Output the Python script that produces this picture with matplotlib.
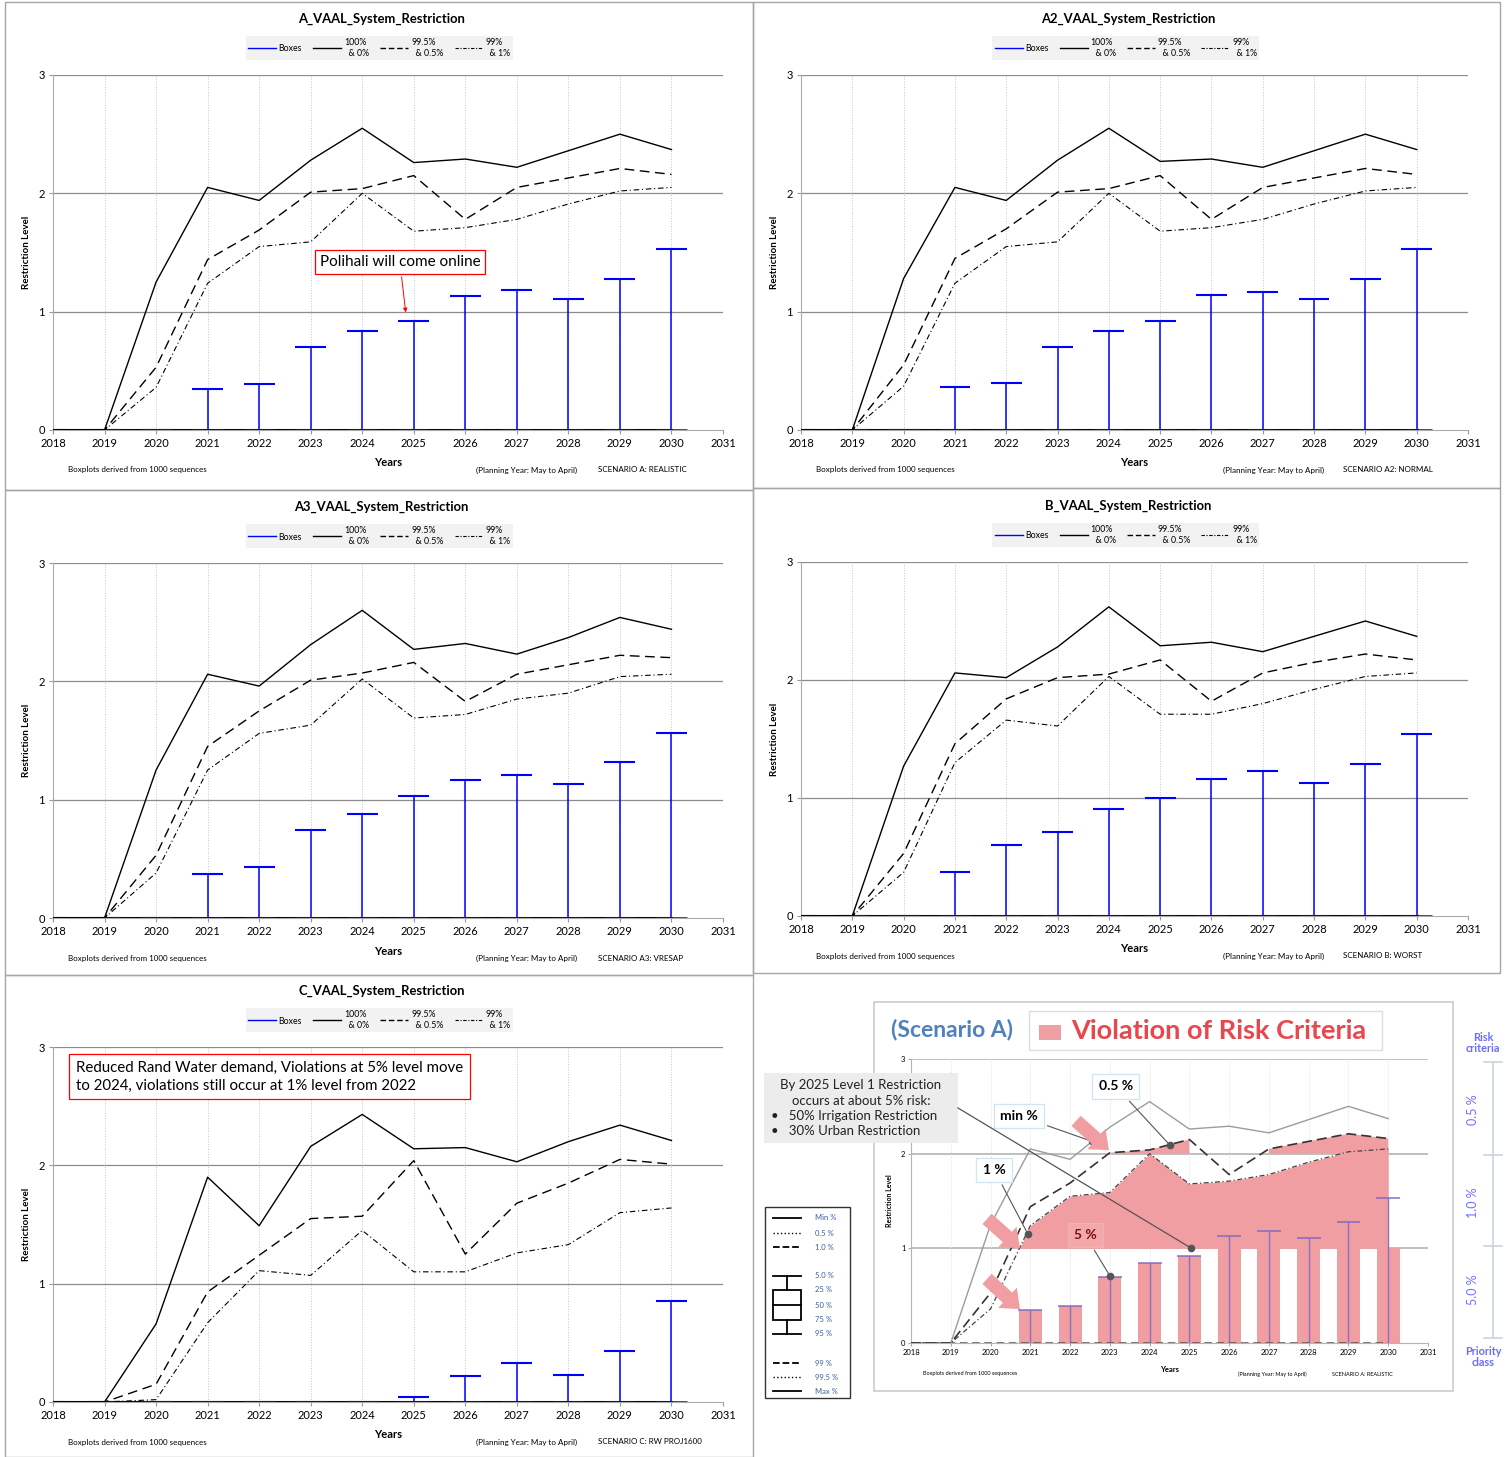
import numpy as np
import matplotlib
matplotlib.use('Agg')
import matplotlib.pyplot as plt
from matplotlib.lines import Line2D
from matplotlib.patches import Rectangle, FancyArrowPatch

plt.rcParams['font.family'] = ['Lato', 'DejaVu Sans']

W, H = 1507, 1457

years = np.arange(2018, 2031)
xticks = np.arange(2018, 2032)

# A: realistic
a_max = [0, 0, 1.25, 2.05, 1.94, 2.28, 2.55, 2.26, 2.29, 2.22, 2.36, 2.50, 2.37]
a_995 = [0, 0, 0.53, 1.44, 1.69, 2.01, 2.04, 2.15, 1.78, 2.05, 2.13, 2.21, 2.16]
a_99 = [0, 0, 0.36, 1.24, 1.55, 1.59, 2.00, 1.68, 1.71, 1.78, 1.91, 2.02, 2.05]
a_box = [0, 0, 0, 0.35, 0.39, 0.70, 0.84, 0.92, 1.13, 1.18, 1.11, 1.28, 1.53]

# A2: normal
a2_max = [0, 0, 1.28, 2.05, 1.94, 2.28, 2.55, 2.27, 2.29, 2.22, 2.36, 2.50, 2.37]
a2_995 = [0, 0, 0.55, 1.45, 1.70, 2.01, 2.04, 2.15, 1.78, 2.05, 2.13, 2.21, 2.16]
a2_99 = [0, 0, 0.37, 1.24, 1.55, 1.59, 2.00, 1.68, 1.71, 1.78, 1.91, 2.02, 2.05]
a2_box = [0, 0, 0, 0.36, 0.40, 0.70, 0.84, 0.92, 1.14, 1.17, 1.11, 1.28, 1.53]

# A3: VRESAP
a3_max = [0, 0, 1.25, 2.06, 1.96, 2.31, 2.60, 2.27, 2.32, 2.23, 2.37, 2.54, 2.44]
a3_995 = [0, 0, 0.53, 1.45, 1.75, 2.01, 2.07, 2.16, 1.83, 2.06, 2.14, 2.22, 2.20]
a3_99 = [0, 0, 0.38, 1.25, 1.56, 1.63, 2.02, 1.69, 1.72, 1.85, 1.90, 2.04, 2.06]
a3_box = [0, 0, 0, 0.37, 0.43, 0.74, 0.88, 1.03, 1.17, 1.21, 1.13, 1.32, 1.56]

# B: worst
b_max = [0, 0, 1.27, 2.06, 2.02, 2.28, 2.62, 2.29, 2.32, 2.24, 2.37, 2.50, 2.37]
b_995 = [0, 0, 0.53, 1.46, 1.84, 2.02, 2.05, 2.17, 1.82, 2.06, 2.15, 2.22, 2.17]
b_99 = [0, 0, 0.37, 1.30, 1.66, 1.61, 2.03, 1.71, 1.71, 1.80, 1.92, 2.03, 2.06]
b_box = [0, 0, 0, 0.37, 0.60, 0.71, 0.91, 1.00, 1.16, 1.23, 1.13, 1.29, 1.54]

# C: RW PROJ1600
c_max = [0, 0, 0.66, 1.90, 1.49, 2.16, 2.43, 2.14, 2.15, 2.03, 2.20, 2.34, 2.21]
c_995 = [0, 0, 0.15, 0.93, 1.24, 1.55, 1.57, 2.04, 1.25, 1.68, 1.85, 2.05, 2.01]
c_99 = [0, 0, 0.02, 0.67, 1.11, 1.07, 1.45, 1.10, 1.10, 1.26, 1.33, 1.60, 1.64]
c_box = [0, 0, 0, 0, 0, 0, 0, 0.04, 0.22, 0.33, 0.23, 0.43, 0.85]

legend_labels = ['Boxes', '100%\n  & 0%', '99.5%\n  & 0.5%', '99%\n  & 1%']

DASH = (0, (7, 4))
DASHDOT = (0, (5, 2.5, 1, 2.5))


def px_rect(x0, y0, x1, y1):
    return [x0 / W, 1 - y1 / H, (x1 - x0) / W, (y1 - y0) / H]


def draw_panel(fig, rect, title, mx, p995, p99, box, scenario):
    x0, y0, x1, y1 = rect
    ax = fig.add_axes(px_rect(*rect))
    hpx = y1 - y0
    mx, p995, p99, box = map(np.array, (mx, p995, p99, box))
    zero = np.zeros(len(years))
    ax.set_xlim(2018, 2031)
    ax.set_ylim(0, 3)
    for y in [1, 2, 3]:
        ax.axhline(y, color='#8c8c8c', lw=0.9, zorder=0)
    for x in range(2019, 2032):
        ax.axvline(x, color='#c4c4c4', lw=0.7, ls=':', zorder=0)
    # boxplot whiskers (boxes collapse at zero)
    ax.plot(years, zero, color='black', lw=2.2, zorder=2)
    ax.hlines(zero, years - 0.3, years + 0.3, color='blue', lw=1.8, zorder=3)
    ax.vlines(years, 0, box, color='blue', lw=1.1, zorder=3)
    ax.hlines(box, years - 0.3, years + 0.3, color='blue', lw=1.5, zorder=3)
    ax.plot(years, mx, color='black', lw=1.0, zorder=4)
    ax.plot(years, p995, color='black', lw=1.0, ls=DASH, zorder=4)
    ax.plot(years, p99, color='black', lw=0.8, ls=DASHDOT, zorder=4)
    ax.set_xticks(xticks)
    ax.set_yticks([0, 1, 2, 3])
    ax.tick_params(labelsize=8, length=3, color='#999999', pad=3)
    for s in ['top', 'right']:
        ax.spines[s].set_visible(False)
    for s in ['left', 'bottom']:
        ax.spines[s].set_color('#aaaaaa')
    ax.text(0.49, 1 + 56 / hpx, title, transform=ax.transAxes, ha='center',
            va='center', fontsize=9.4, fontweight='bold')
    ax.text(-0.040, 0.5, 'Restriction Level', transform=ax.transAxes, rotation=90,
            ha='center', va='center', fontsize=7, fontweight='bold')
    ax.text(0.5, -33 / hpx, 'Years', transform=ax.transAxes, ha='center',
            va='center', fontsize=8, fontweight='bold')
    ax.text(0.022, -40 / hpx, 'Boxplots derived from 1000 sequences',
            transform=ax.transAxes, ha='left', va='center', fontsize=5.8)
    ax.text(0.632, -40 / hpx, '(Planning Year: May to April)',
            transform=ax.transAxes, ha='left', va='center', fontsize=5.8)
    ax.text(0.813, -40 / hpx, scenario, transform=ax.transAxes, ha='left',
            va='center', fontsize=5.8)
    handles = [Line2D([], [], color='blue', lw=1),
               Line2D([], [], color='black', lw=1),
               Line2D([], [], color='black', lw=1, ls=(0, (4, 2))),
               Line2D([], [], color='black', lw=0.8, ls=(0, (3, 1.5, 1, 1.5)))]
    ax.legend(handles, legend_labels, ncol=4, loc='center',
              bbox_to_anchor=(0.487, 1 + 27 / hpx), fontsize=6.3,
              facecolor='#f2f2f2', edgecolor='none', framealpha=1,
              handlelength=3.2, handletextpad=0.3, columnspacing=1.3,
              borderpad=0.25, labelspacing=0.1, fancybox=False)
    return ax


fig = plt.figure(figsize=(W / 100, H / 100), dpi=100)

axA = draw_panel(fig, (53, 75, 723, 430), 'A_VAAL_System_Restriction',
                 a_max, a_995, a_99, a_box, 'SCENARIO A: REALISTIC')
axA.annotate('Polihali will come online', xy=(2024.85, 0.97), xytext=(2024.73, 1.42),
             ha='center', va='center', fontsize=11,
             bbox=dict(boxstyle='square,pad=0.3', fc='white', ec='red', lw=0.9),
             arrowprops=dict(arrowstyle='-|>', color='red', lw=0.7, mutation_scale=6),
             zorder=6)
draw_panel(fig, (801, 75, 1468, 430), 'A2_VAAL_System_Restriction',
           a2_max, a2_995, a2_99, a2_box, 'SCENARIO A2: NORMAL')
draw_panel(fig, (53, 563, 723, 918), 'A3_VAAL_System_Restriction',
           a3_max, a3_995, a3_99, a3_box, 'SCENARIO A3: VRESAP')
draw_panel(fig, (801, 562, 1468, 916), 'B_VAAL_System_Restriction',
           b_max, b_995, b_99, b_box, 'SCENARIO B: WORST')
axC = draw_panel(fig, (53, 1047, 723, 1402), 'C_VAAL_System_Restriction',
                 c_max, c_995, c_99, c_box, 'SCENARIO C: RW PROJ1600')
axC.text(2018.45, 2.75,
         'Reduced Rand Water demand, Violations at 5% level move\n'
         'to 2024, violations still occur at 1% level from 2022',
         ha='left', va='center', fontsize=10.8, linespacing=1.35,
         bbox=dict(boxstyle='square,pad=0.45', fc='white', ec='red', lw=0.9),
         zorder=6)

# ---- bottom right: annotated copy of scenario A ----
pink = '#f19ea3'
ins = fig.add_axes(px_rect(911, 1059, 1428, 1343))
amx, a995, a99, abox = map(np.array, (a_max, a_995, a_99, a_box))
ins.set_xlim(2018, 2031)
ins.set_ylim(0, 3)
for y in [1, 2, 3]:
    ins.axhline(y, color='#b4b4b4', lw=1.2, zorder=0)
for x in range(2019, 2032):
    ins.axvline(x, color='#e0e0e0', lw=0.7, ls=':', zorder=0)
ins.fill_between(years, 1, a99, where=a99 > 1, interpolate=True, color=pink, lw=0, zorder=1)
ins.fill_between(years, 2, a995, where=a995 > 2, color=pink, lw=0, zorder=1)
ins.bar(years, np.minimum(abox, 1), width=0.58, color=pink, zorder=1)
nz = abox > 0
ins.vlines(years[nz], 0, abox[nz], color='#7a66c4', lw=1.0, alpha=0.85, zorder=2)
ins.hlines(abox[nz], years[nz] - 0.3, years[nz] + 0.3, color='#7a66c4', lw=1.2, alpha=0.85, zorder=2)
ins.plot(years, np.zeros(len(years)), color='#555555', lw=1.1, ls=(0, (5, 3)), zorder=3)
ins.plot(years, amx, color='#9c9c9c', lw=1.0, zorder=3)
ins.plot(years, a995, color='#333333', lw=1.2, ls=(0, (6, 3)), zorder=3)
ins.plot(years, a99, color='#444444', lw=0.9, ls=(0, (4, 2, 1, 2)), zorder=3)
ins.set_xticks(xticks)
ins.set_yticks([0, 1, 2, 3])
ins.tick_params(labelsize=5.5, length=2, color='#aaaaaa', pad=2)
for s in ['top', 'right']:
    ins.spines[s].set_visible(False)
for s in ['left', 'bottom']:
    ins.spines[s].set_color('#b4b4b4')
ins.text(-0.041, 0.5, 'Restriction Level', transform=ins.transAxes, rotation=90,
         ha='center', va='center', fontsize=5, fontweight='bold')
ins.text(0.5, -26 / 284, 'Years', transform=ins.transAxes, ha='center',
         va='center', fontsize=5.5, fontweight='bold')
ins.text(0.023, -31 / 284, 'Boxplots derived from 1000 sequences',
         transform=ins.transAxes, ha='left', va='center', fontsize=4)
ins.text(0.632, -31 / 284, '(Planning Year: May to April)',
         transform=ins.transAxes, ha='left', va='center', fontsize=4)
ins.text(0.815, -31 / 284, 'SCENARIO A: REALISTIC',
         transform=ins.transAxes, ha='left', va='center', fontsize=4)

callouts = [('min %', (2022.55, 2.13), (2020.72, 2.40), 'black', '#cfe6f0'),
            ('0.5 %', (2024.5, 2.095), (2023.15, 2.71), 'black', '#cfe6f0'),
            ('1 %', (2020.94, 1.15), (2020.09, 1.83), 'black', '#cfe6f0'),
            ('5 %', (2023.0, 0.71), (2022.38, 1.14), '#7a1010', '#e9b4b4')]
for label, xy, xyt, tc, ec in callouts:
    ins.plot(*xy, 'o', color='#555555', ms=4.5, zorder=5)
    ins.annotate(label, xy=xy, xytext=xyt, ha='center', va='center', fontsize=10,
                 fontweight='bold', color=tc, zorder=6,
                 bbox=dict(boxstyle='square,pad=0.45', fc='white' if tc == 'black' else '#f3a8ab',
                           ec=ec, lw=0.9),
                 arrowprops=dict(arrowstyle='-', color='#555555', lw=0.8))
ins.plot(2025.03, 1.0, 'o', color='#555555', ms=4.5, zorder=5)

# overlay in pixel coordinates for frames and decorations
ov = fig.add_axes([0, 0, 1, 1])
ov.set_xlim(0, W)
ov.set_ylim(H, 0)
ov.axis('off')
ov.patch.set_alpha(0)

for (x0, y0, x1, y1) in [(5, 2, 753, 490), (753, 2, 1500, 488), (5, 490, 753, 975),
                         (753, 488, 1500, 973), (5, 975, 753, 1457)]:
    ov.add_patch(Rectangle((x0, y0), x1 - x0, y1 - y0, fill=False, ec='#a6a6a6', lw=1))

ov.add_patch(Rectangle((874, 1002), 579, 389, fill=False, ec='#cccccc', lw=1.2))
ov.text(952, 1030, '(Scenario A)', ha='center', va='center', fontsize=16.5,
        fontweight='bold', color='#4f81bd')
ov.add_patch(Rectangle((1029, 1011), 353, 39, fc='white', ec='#dddddd', lw=1))
ov.add_patch(Rectangle((1039, 1025), 22, 15, fc=pink, ec='none'))
ov.text(1071, 1031, 'Violation of Risk Criteria', ha='left', va='center', fontsize=19.5,
        fontweight='bold', color='#e8474d')

# text box with leader line to 2025 level 1
ov.plot([958, 1191], [1108, 1248], color='#555555', lw=0.9)
ov.add_patch(Rectangle((764, 1073), 194, 70, fc='#ececec', ec='none'))
ov.text(861, 1085, 'By 2025 Level 1 Restriction', ha='center', va='center', fontsize=9.5, color='#222222')
ov.text(861, 1101, 'occurs at about 5% risk:', ha='center', va='center', fontsize=9.5, color='#222222')
ov.text(771, 1116, '\u2022   50% Irrigation Restriction', ha='left', va='center', fontsize=9.5, color='#222222')
ov.text(771, 1131, '\u2022   30% Urban Restriction', ha='left', va='center', fontsize=9.5, color='#222222')

for (p0, p1) in [((1074, 1119), (1111, 1152)), ((985, 1217), (1022, 1250)),
                 ((985, 1277), (1022, 1311))]:
    ov.add_patch(FancyArrowPatch(p0, p1, arrowstyle='simple,head_length=0.55,head_width=0.9,tail_width=0.45',
                                 mutation_scale=22, color=pink, lw=0))

# key box
ov.add_patch(Rectangle((765, 1207), 85, 191, fc='white', ec='#333333', lw=1))
key_rows = [('Min %', 1218, '-'), ('0.5 %', 1233, ':'), ('1.0 %', 1247, '--'),
            ('5.0 %', 1276, None), ('25 %', 1290, None), ('50 %', 1305, None),
            ('75 %', 1320, None), ('95 %', 1334, None),
            ('99 %', 1363, '--'), ('99.5 %', 1377, ':'), ('Max %', 1391, '-')]
for lab, yy, ls in key_rows:
    ov.text(815, yy, lab, ha='left', va='center', fontsize=5.5, color='#3a5fa0')
    if ls is not None:
        ov.plot([773, 801], [yy, yy], color='black', lw=1.3 if ls != ':' else 1.0, ls=ls)
ov.plot([773, 801], [1276, 1276], color='black', lw=1.3)
ov.plot([787, 787], [1276, 1290], color='black', lw=1.3)
ov.add_patch(Rectangle((773, 1290), 28, 30, fill=False, ec='black', lw=1.3))
ov.plot([773, 801], [1305, 1305], color='black', lw=1.3)
ov.plot([787, 787], [1320, 1334], color='black', lw=1.3)
ov.plot([773, 801], [1334, 1334], color='black', lw=1.3)

# risk criteria scale on the right edge
ov.text(1483, 1043, 'Risk\ncriteria', ha='center', va='center', fontsize=7.8,
        fontweight='bold', color='#6b6bff', linespacing=1.1)
ov.plot([1493, 1493], [1062, 1338], color='#c8d4dc', lw=1.2)
for yy in [1062, 1155, 1246, 1338]:
    ov.plot([1484, 1502], [yy, yy], color='#c8d4dc', lw=1.2)
for lab, yy in [('0.5 %', 1110), ('1.0 %', 1203), ('5.0 %', 1290)]:
    ov.text(1473, yy, lab, ha='center', va='center', rotation=90, fontsize=9,
            color='#7070ff')
ov.text(1483, 1357, 'Priority\nclass', ha='center', va='center', fontsize=7.8,
        fontweight='bold', color='#6b6bff', linespacing=1.1)

fig.savefig('out.png', dpi=100)
